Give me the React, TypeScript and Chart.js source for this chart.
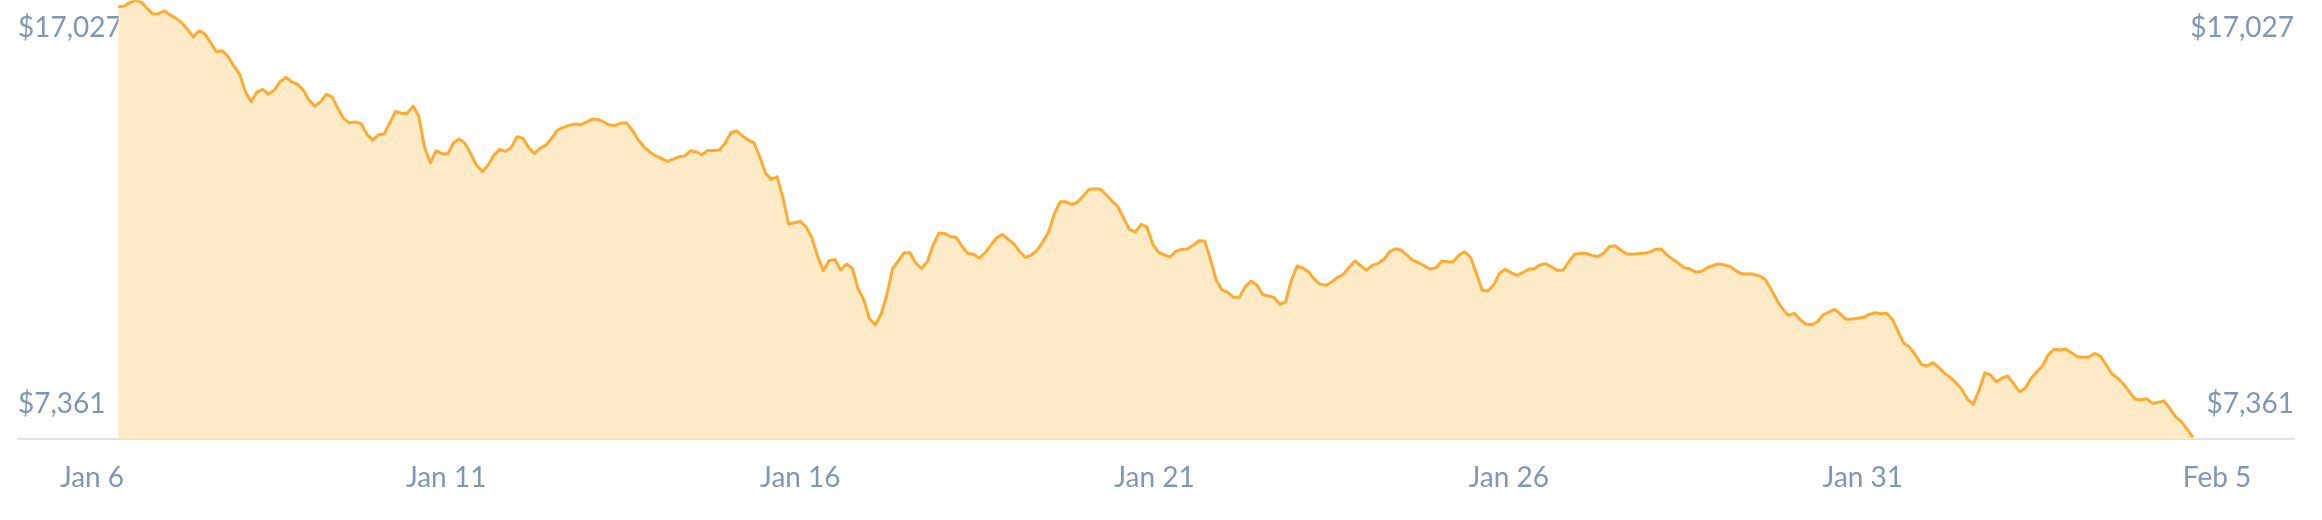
import { useEffect, useRef } from "react";
import { Chart, registerables } from "chart.js";

Chart.register(...registerables);

// BTC price, one sample roughly every two hours (USD)
const btcPrices: number[] = [
  17575, 17593, 17683, 17747, 17696, 17534, 17387, 17405, 17472, 17361,
  17277, 17163, 16994, 16796, 16958, 16873, 16649, 16418, 16444, 16307,
  16050, 15845, 15390, 15133, 15390, 15451, 15330, 15433, 15647, 15760,
  15647, 15588, 15433, 15176, 15022, 15133, 15323, 15261, 14963, 14696,
  14593, 14611, 14577, 14302, 14148, 14284, 14302, 14593, 14886, 14834,
  14834, 15022,
  14765, 13960, 13564, 13873, 13806, 13788, 14079, 14174, 14063, 13788,
  13498, 13343, 13505, 13762, 13909, 13857, 13960, 14233, 14199, 13960,
  13806, 13942, 14019, 14192, 14405, 14474, 14526, 14559, 14541, 14611,
  14688, 14680, 14618, 14534, 14526, 14585, 14585, 14387, 14148, 13976,
  13839, 13744, 13678, 13600, 13660, 13719, 13737, 13873, 13847, 13770,
  13883,
  13878, 13891, 14063, 14336, 14387, 14251, 14148, 14079, 13719, 13292,
  13138, 13205, 12675, 11989, 12022, 12058, 11919, 11647, 11166, 10788,
  11045, 11081, 10806, 10960, 10858, 10336, 10035, 9554, 9392, 9675,
  10163, 10850, 11045, 11251, 11251, 10978, 10850, 11019, 11449, 11750,
  11750, 11662, 11647, 11423, 11235, 11210, 11115, 11251, 11449, 11636,
  11724, 11595,
  11474, 11277, 11133, 11192, 11320, 11534, 11791, 12264, 12562, 12562,
  12495, 12554, 12716, 12881, 12896, 12881, 12734, 12580, 12433, 12135,
  11852, 11783, 11981, 11919, 11474, 11261, 11199, 11140, 11287, 11338,
  11346, 11441, 11559, 11552, 11081, 10549, 10292, 10233, 10104, 10104,
  10377, 10523, 10428, 10181, 10138, 10104, 9924, 9991, 10549, 10909,
  10858, 10755,
  10567, 10439, 10413, 10505, 10618, 10696, 10876, 11038, 10917, 10806,
  10927, 10978, 11081, 11277, 11354, 11320, 11192, 11063, 10994, 10917,
  10832, 10865, 11030, 11019, 11019, 11192, 11277, 11133, 10721, 10292,
  10266, 10420, 10721, 10824, 10737, 10670, 10737, 10824, 10840, 10935,
  10968, 10891, 10798, 10798, 11019, 11210, 11235, 11235, 11184, 11148,
  11235, 11405,
  11431, 11320, 11225, 11210, 11225, 11235, 11269, 11338, 11346, 11192,
  11081, 10978, 10865, 10832, 10747, 10773, 10865, 10927, 10960, 10935,
  10891, 10780, 10703, 10711, 10696, 10652, 10567, 10310, 10035, 9803,
  9642, 9693, 9539, 9418, 9400, 9477, 9649, 9726, 9796, 9675,
  9539, 9547, 9565, 9590, 9667, 9708, 9683, 9693, 9539, 9220,
  8922, 8819,
  8621, 8382, 8338, 8423, 8305, 8151, 8048, 7909, 7739, 7482,
  7354, 7721, 8166, 8107, 7935, 8030, 8081, 7876, 7678, 7765,
  8022, 8192, 8346, 8639, 8768, 8750, 8775, 8680, 8577, 8562,
  8562, 8665, 8595, 8364, 8133, 8022, 7876, 7678, 7490, 7464,
  7498, 7379, 7405, 7438, 7251, 7035, 6906, 6711, 6505,
];

// sampling: hours after Jan 6 00:00
const firstSampleHour = 8.9;
const sampleStepHours = 1.958;

// x axis (days after Jan 6)
const xTickDays = [0, 5, 10, 15, 20, 25, 30];
const xTickLabels = ["Jan 6", "Jan 11", "Jan 16", "Jan 21", "Jan 26", "Jan 31", "Feb 5"];
const xRange = [-1.0447, 31.087];

// y axis
const yTickValues = [17027, 7361];
const yTickLabels = ["$17,027", "$7,361"];
const yRange = [6461, 17747];

const TEXT = "#7e96b7";
const LINE = "#ffab2f";
const FILL = "#fdebc8";
const BASE = "#dce3ee";

export default function App() {
  const ref = useRef<HTMLCanvasElement>(null);

  useEffect(() => {
    const canvas = ref.current;
    if (!canvas) return;
    const points = btcPrices.map((p, i) => ({
      x: (firstSampleHour + i * sampleStepHours) / 24,
      y: p,
    }));

    const yAxis = (position: "left" | "right") => ({
      type: "linear" as const,
      position,
      min: yRange[0],
      max: yRange[1],
      bounds: "data" as const,
      grid: { display: false, drawTicks: false },
      border: { display: false },
      afterBuildTicks: (s: any) => {
        s.ticks = yTickValues.map((v) => ({ value: v }));
      },
      ticks: {
        mirror: true,
        padding: 0,
        crossAlign: "near" as const,
        color: TEXT,
        font: { family: "Lato", size: 28, lineHeight: 0.01 },
        callback: (_v: any, i: number) => yTickLabels[i],
      },
    });

    const chart = new Chart(canvas, {
      type: "line",
      data: {
        datasets: [
          {
            data: points,
            borderColor: LINE,
            backgroundColor: FILL,
            borderWidth: 3,
            fill: "start",
            pointRadius: 0,
            pointHoverRadius: 0,
            tension: 0,
            borderJoinStyle: "round",
            yAxisID: "y",
          },
        ],
      },
      options: {
        animation: false,
        responsive: true,
        maintainAspectRatio: false,
        devicePixelRatio: 1,
        events: [],
        layout: { padding: { left: 18, right: 28, top: 0, bottom: 2.4 } },
        plugins: { legend: { display: false }, tooltip: { enabled: false } },
        scales: {
          x: {
            type: "linear",
            min: xRange[0],
            max: xRange[1],
            bounds: "data",
            z: 1,
            grid: { display: false, drawTicks: false },
            border: { display: true, color: BASE, width: 2 },
            afterBuildTicks: (s: any) => {
              s.ticks = xTickDays.map((v) => ({ value: v }));
            },
            ticks: {
              autoSkip: false,
              maxRotation: 0,
              minRotation: 0,
              align: "center",
              padding: 22.5,
              color: TEXT,
              font: { family: "Lato", size: 28 },
              callback: (_v: any, i: number) => xTickLabels[i],
            },
          },
          y: yAxis("left") as any,
          y2: yAxis("right") as any,
        },
      },
    });
    return () => chart.destroy();
  }, []);

  return (
    <div
      style={{
        position: "fixed",
        left: 0,
        top: 0,
        width: 2322,
        height: 520,
        background: "#ffffff",
      }}
    >
      <canvas ref={ref} />
    </div>
  );
}
